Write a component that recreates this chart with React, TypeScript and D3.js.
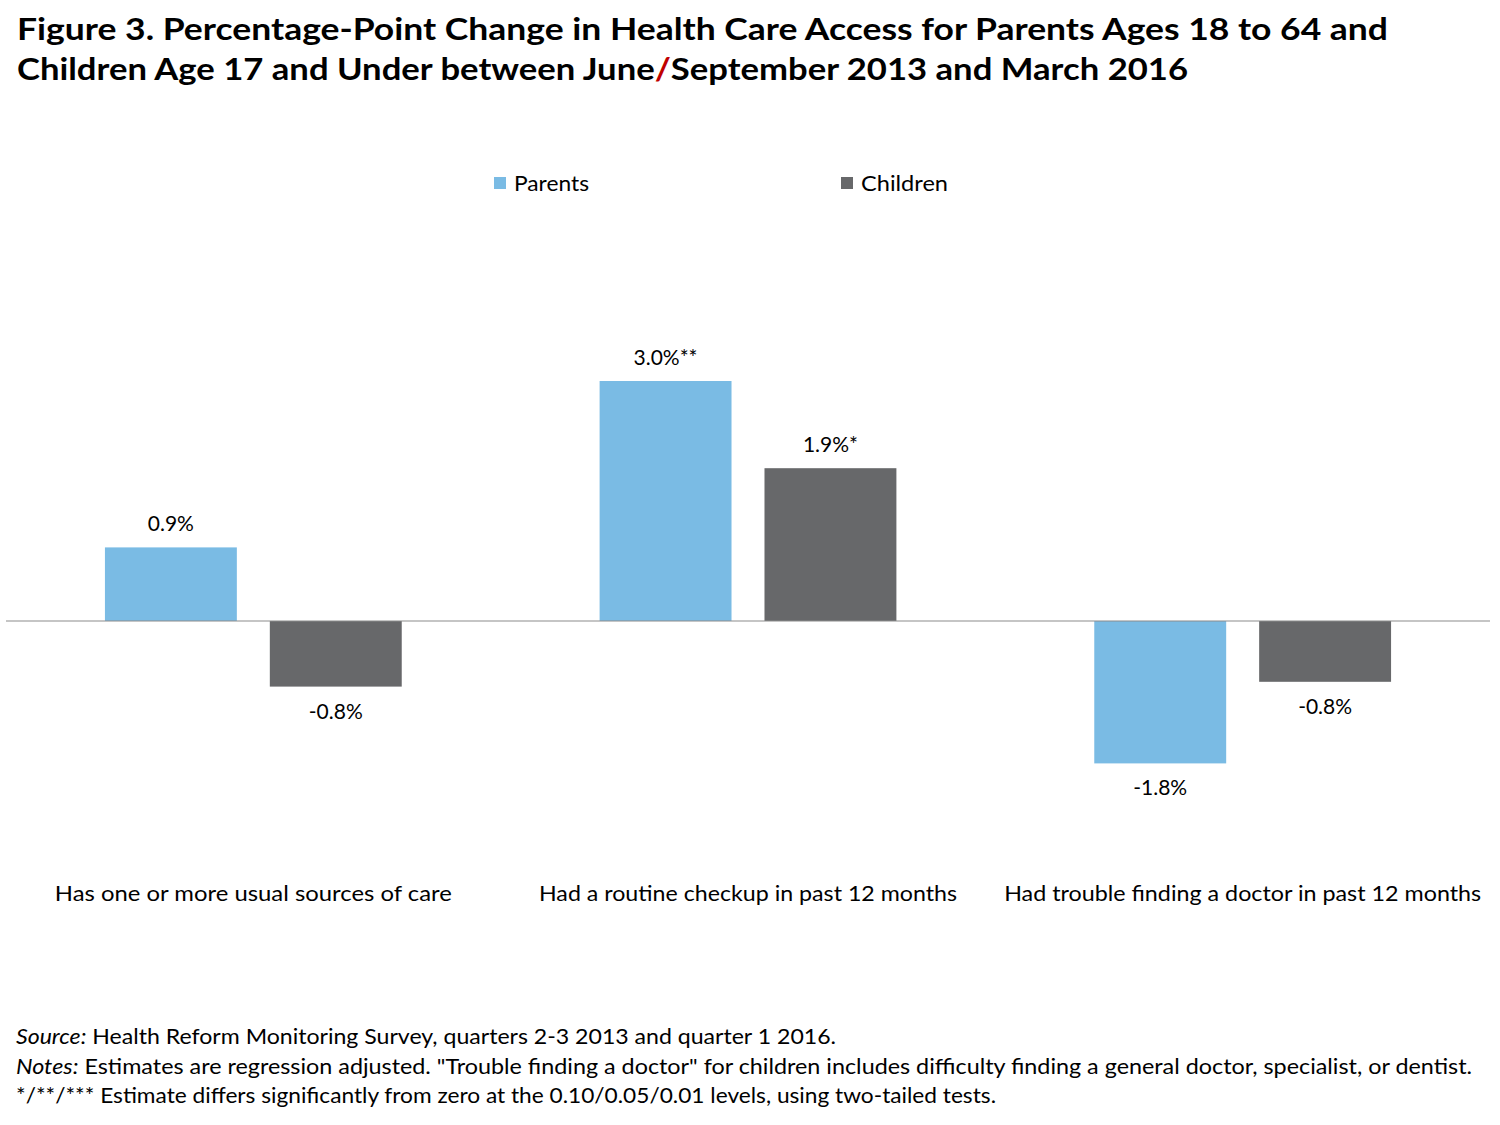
import * as d3 from 'd3';

// categories, series and values
const categories = [
  'Has one or more usual sources of care',
  'Had a routine checkup in past 12 months',
  'Had trouble finding a doctor in past 12 months',
];
const seriesNames = ['Parents', 'Children'];
const parentsValues = [0.92, 3.0, -1.78];
const childrenValues = [-0.82, 1.91, -0.76];
const parentsLabels = ['0.9%', '3.0%**', '-1.8%'];
const childrenLabels = ['-0.8%', '1.9%*', '-0.8%'];
const colors = ['#7abbe4', '#67686a'];

const FONT = 'Lato, "Open Sans", sans-serif';

const App = () => {
  const width = 1500;
  const height = 1125;

  // 차트 영역
  const plotLeft = 6;
  const plotRight = 1490;
  const zeroY = 621;

  const xScale = d3.scaleBand<string>().domain(categories).range([plotLeft, plotRight]).paddingInner(0);
  const inner = d3
    .scaleBand<string>()
    .domain(seriesNames)
    .range([0, xScale.bandwidth()])
    .paddingInner(0.2)
    .paddingOuter(0.6);

  const yScale = d3.scaleLinear().domain([0, 3]).range([zeroY, zeroY - 240]);

  const rows = categories.flatMap((c, i) => [
    { cat: c, series: 'Parents', value: parentsValues[i], label: parentsLabels[i], color: colors[0] },
    { cat: c, series: 'Children', value: childrenValues[i], label: childrenLabels[i], color: colors[1] },
  ]);

  const catLabelWidths = [397, 418, 477];
  const legendX = [494, 841];
  const legendWidths = [75, 87];

  return (
    <svg width={width} height={height} style={{ display: 'block', position: 'absolute', left: 0, top: 0 }}>
      <rect width={width} height={height} fill="#fff" />
      {/* title */}
      <text x={17} y={40} fontFamily={FONT} fontWeight={700} fontSize={30} fill="#000" textLength={1371} lengthAdjust="spacingAndGlyphs">
        Figure 3. Percentage-Point Change in Health Care Access for Parents Ages 18 to 64 and
      </text>
      <text x={17} y={80} fontFamily={FONT} fontWeight={700} fontSize={30} fill="#000" textLength={1171} lengthAdjust="spacingAndGlyphs">
        Children Age 17 and Under between June<tspan fill="#c00000">/</tspan>September 2013 and March 2016
      </text>

      {/* legend */}
      {seriesNames.map((s, i) => (
        <g key={s}>
          <rect x={legendX[i]} y={177} width={12} height={12} fill={colors[i]} />
          <text
            x={legendX[i] + 20}
            y={191}
            fontFamily={FONT}
            fontSize={22}
            fill="#000"
            textLength={legendWidths[i]}
            lengthAdjust="spacingAndGlyphs"
          >
            {s}
          </text>
        </g>
      ))}

      {/* bars */}
      {rows.map((d) => {
        const x = (xScale(d.cat) as number) + (inner(d.series) as number);
        const y0 = yScale(0);
        const y1 = yScale(d.value);
        const top = Math.min(y0, y1);
        const h = Math.abs(y1 - y0);
        const cx = x + inner.bandwidth() / 2;
        const ly = d.value >= 0 ? y1 - 16 : y1 + 32;
        return (
          <g key={d.cat + d.series}>
            <rect x={x} y={top} width={inner.bandwidth()} height={h} fill={d.color} />
            <text x={cx} y={ly} textAnchor="middle" fontFamily={FONT} fontSize={21} fill="#000">
              {d.label}
            </text>
          </g>
        );
      })}

      {/* zero line */}
      <line x1={plotLeft} x2={plotRight} y1={yScale(0)} y2={yScale(0)} stroke="#8c8c8c" strokeWidth={1.2} />

      {/* category labels */}
      {categories.map((c, i) => (
        <text
          key={c}
          x={(xScale(c) as number) + xScale.bandwidth() / 2}
          y={901}
          textAnchor="middle"
          fontFamily={FONT}
          fontSize={22}
          fill="#000"
          textLength={catLabelWidths[i]}
          lengthAdjust="spacingAndGlyphs"
        >
          {c}
        </text>
      ))}

      {/* footer */}
      <text x={16} y={1044} fontFamily={FONT} fontSize={21} fill="#000" textLength={820} lengthAdjust="spacingAndGlyphs">
        <tspan fontStyle="italic">Source:</tspan> Health Reform Monitoring Survey, quarters 2-3 2013 and quarter 1 2016.
      </text>
      <text x={16} y={1074} fontFamily={FONT} fontSize={21} fill="#000" textLength={1456} lengthAdjust="spacingAndGlyphs">
        <tspan fontStyle="italic">Notes:</tspan> Estimates are regression adjusted. "Trouble finding a doctor" for children includes difficulty finding a general doctor, specialist, or dentist.
      </text>
      <text x={16} y={1103} fontFamily={FONT} fontSize={21} fill="#000" textLength={980} lengthAdjust="spacingAndGlyphs">
        */**/*** Estimate differs significantly from zero at the 0.10/0.05/0.01 levels, using two-tailed tests.
      </text>
    </svg>
  );
};

export default App;
